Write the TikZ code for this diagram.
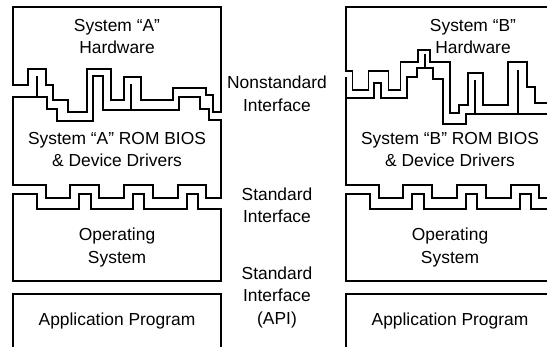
\documentclass[tikz,border=0pt]{standalone}
\usepackage{fontspec}
\setmainfont{Liberation Sans}

\begin{document}
\begin{tikzpicture}[x=1pt, y=-1pt, line width=1.1pt, line cap=rect,
        boxtext/.style={font=\fontsize{17.4}{22.5}\selectfont, align=center}]
        \useasboundingbox (0,0) rectangle (547,347);

        % System A: hardware and BIOS
        \begin{scope}
            \draw (13,85) -- (28,85) -- (28,69) -- (46,69) -- (46,85) -- (53,85) -- (53,100) -- (68,100)
                -- (68,112) -- (87,112) -- (87,69) -- (111,69) -- (111,100) -- (124,100) -- (124,77)
                -- (141,77) -- (141,100) -- (173,100) -- (173,88) -- (206,88) -- (206,95) -- (213,95)
                -- (213,112) -- (221,112) -- (221,7) -- (13,7) -- cycle;
            \node[boxtext] (hwA) at (117,36.5) {System “A”\\Hardware};

            \draw (13,185) -- (13,97) -- (47,97) -- (47,109) -- (57,109) -- (57,121) -- (93,121) -- (93,76)
                -- (103,76) -- (103,110) -- (179,110) -- (179,97) -- (200,97) -- (200,109) -- (209,109)
                -- (209,120) -- (221,120) -- (221,198);
            \draw (37,77) -- (37,97);
            \draw (131,85) -- (131,110);
            \node[boxtext] (biosA) at (117,149.5) {System “A” ROM BIOS\\\& Device Drivers};
        \end{scope}

        % System B: hardware and BIOS
        \begin{scope}
            \draw (346,71) -- (352.7,71) -- (352.7,90) -- (368.3,90) -- (368.3,71) -- (388.3,71) -- (388.3,90)
                -- (400.7,90) -- (400.7,62) -- (418,62) -- (418,50) -- (430,50) -- (430,62) -- (450,62)
                -- (450,113) -- (459,113) -- (459,105) -- (468,105) -- (468,73) -- (483,73) -- (483,105)
                -- (508,105) -- (508,62) -- (527,62) -- (527,87) -- (535,87) -- (535,103) -- (554,103)
                -- (554,7) -- (346,7) -- cycle;
            \node[boxtext] (hwB) at (473,36.5) {System “B”\\Hardware};

            \draw (346,78) -- (346,185);
            \draw (346,98) -- (374,98) -- (374,83) -- (381,83) -- (381,98) -- (407,98) -- (407,77)
                -- (417,77) -- (417,68) -- (433,68) -- (433,79) -- (443,79) -- (443,124) -- (466,124)
                -- (466,114) -- (554,114) -- (554,198);
            \draw (425,55) -- (425,68);
            \draw (475,81) -- (475,114);
            \draw (518,71) -- (518,114);
            \node[boxtext] (biosB) at (450,149.5) {System “B” ROM BIOS\\\& Device Drivers};
        \end{scope}

        % standard part, same in both columns
        \foreach \col/\sx in {A/0, B/333} {
            \begin{scope}[shift={(\sx,0)}]
                \draw (13,185) -- (46,185) -- (46,198) -- (70,198) -- (70,185) -- (99,185) -- (99,198)
                    -- (124,198) -- (124,185) -- (153,185) -- (153,198) -- (178,198) -- (178,185)
                    -- (206,185) -- (206,198) -- (221,198);
                \draw (13,281) -- (13,194) -- (37,194) -- (37,209) -- (79,209) -- (79,194) -- (91,194)
                    -- (91,209) -- (133,209) -- (133,194) -- (144,194) -- (144,209) -- (187,209)
                    -- (187,194) -- (198,194) -- (198,209) -- (221,209) -- (221,281) -- cycle;
                \node[boxtext] (os\col) at (117,247.5) {Operating\\System};

                \draw (13,350) -- (13,294) -- (221,294) -- (221,350);
                \node[boxtext] (app\col) at (117,321) {Application Program};
            \end{scope}
        }

        % interface labels
        \node[boxtext] (nonstd) at (277,94) {Nonstandard\\Interface};
        \node[boxtext] (std) at (277,205.5) {Standard\\Interface};
        \node[boxtext] (api) at (277,297) {Standard\\Interface\\(API)};
    \end{tikzpicture}
\end{document}
